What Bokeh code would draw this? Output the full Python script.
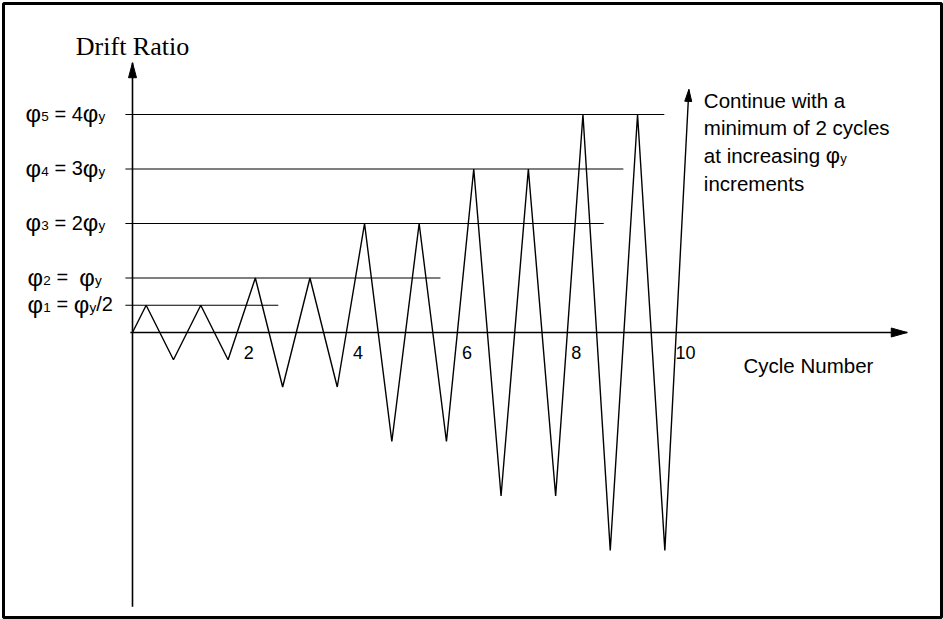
from bokeh.plotting import figure
from bokeh.models import Range1d
from bokeh.core.properties import value
from bokeh.embed import file_html
from bokeh.resources import INLINE

# ---------------- data ----------------
cycle_x = [0, 0.25, 0.75, 1.25, 1.75, 2.25, 2.75, 3.25, 3.75, 4.25, 4.75,
           5.25, 5.75, 6.25, 6.75, 7.25, 7.75, 8.25, 8.75, 9.25, 9.75]
drift_y = [0, 0.5, -0.5, 0.5, -0.5, 1, -1, 1, -1, 2, -2,
           2, -2, 3, -3, 3, -3, 4, -4, 4, -4]
continue_tip = [10.19, 4.46]

level_values = [4, 3, 2, 1, 0.5]
level_line_end = [9.74, 8.99, 8.63, 5.64, 2.67]
level_line_start = -0.13
# label segments: (text, kind)  kind: "m" main text, "s" subscript, "p" phi symbol
level_labels = [
    [("φ", "p"), ("5", "s"), (" = 4", "m"), ("φ", "p"), ("y", "s")],
    [("φ", "p"), ("4", "s"), (" = 3", "m"), ("φ", "p"), ("y", "s")],
    [("φ", "p"), ("3", "s"), (" = 2", "m"), ("φ", "p"), ("y", "s")],
    [("φ", "p"), ("2", "s"), (" =  ", "m"), ("φ", "p"), ("y", "s")],
    [("φ", "p"), ("1", "s"), (" = ", "m"), ("φ", "p"), ("y", "s"), ("/2", "m")],
]
cycle_ticks = [2, 4, 6, 8, 10]
cycle_tick_labels = ["2", "4", "6", "8", "10"]
y_axis_extent = [-5.03, 4.95]
x_axis_extent = [-0.04, 14.19]

note_lines = [
    [("Continue with a", "m")],
    [("minimum of 2 cycles", "m")],
    [("at increasing ", "m"), ("φ", "p"), ("y", "s")],
    [("increments", "m")],
]

# ---------------- layout helpers ----------------
W, H = 943, 619
OX, OY = 132.0, 332.0      # pixel position of origin
XS, YS = 54.6, 54.5        # pixels per cycle / per drift unit
BL, BT, BR, BB = 3, 3, 2, 2
TEXT_DY = -7               # baseline correction (px)
NBSP = "\u00a0"


def fx(px):
    return (px - OX) / XS


def fy(py):
    return (OY - py) / YS


def tx(x):
    return OX + XS * x


def ty(y):
    return OY - YS * y


CW = {'φ': 0.66, ' ': 0.278, '=': 0.584, '/': 0.278,
      'a': .556, 'b': .556, 'c': .5, 'd': .556, 'e': .556, 'f': .278, 'g': .556,
      'h': .556, 'i': .222, 'j': .222, 'k': .5, 'l': .222, 'm': .833, 'n': .556,
      'o': .556, 'p': .556, 'q': .556, 'r': .333, 's': .5, 't': .278, 'u': .556,
      'v': .5, 'w': .722, 'x': .5, 'y': .5, 'z': .5}
for d in "0123456789":
    CW[d] = 0.556


def seg_width(s, size):
    return sum(CW.get(c, 0.6) for c in s) * size


p = figure(width=W, height=H, output_backend="svg", toolbar_location=None,
           x_range=Range1d(fx(BL), fx(W - BR)), y_range=Range1d(fy(H - BB), fy(BT)),
           x_axis_type=None, y_axis_type=None,
           min_border_left=BL, min_border_right=BR, min_border_top=BT, min_border_bottom=BB)
p.grid.visible = False
p.outline_line_color = "black"
p.outline_line_width = 3
p.background_fill_color = "white"
p.border_fill_color = "white"

SANS = value("Liberation Sans")
SERIF = value("Liberation Serif")


def head(tip_x, tip_y, ux, uy, length, width):
    """triangle arrow head; (ux, uy) screen-space unit direction of arrow"""
    px, py = tx(tip_x), ty(tip_y)
    bx, by = px - ux * length, py - uy * length
    nx, ny = -uy, ux
    xs = [px, bx + nx * width / 2, bx - nx * width / 2]
    ys = [py, by + ny * width / 2, by - ny * width / 2]
    return [fx(v) for v in xs], [fy(v) for v in ys]


# horizontal reference levels
for lv, le in zip(level_values, level_line_end):
    p.line([level_line_start, le], [lv, lv], line_color="black", line_width=1.1)

# axes
p.line([0, 0], y_axis_extent, line_color="black", line_width=1.6)
p.line(x_axis_extent, [0, 0], line_color="black", line_width=1.6)
hx, hy = head(0, y_axis_extent[1], 0, -1, 15, 8)
p.patch(hx, hy, fill_color="black", line_color="black")
hx, hy = head(x_axis_extent[1], 0, 1, 0, 16, 9)
p.patch(hx, hy, fill_color="black", line_color="black")

# loading history
p.line(cycle_x + [continue_tip[0]], drift_y + [continue_tip[1]],
       line_color="black", line_width=1.4)
dx = tx(continue_tip[0]) - tx(cycle_x[-1])
dy = ty(continue_tip[1]) - ty(drift_y[-1])
n = (dx * dx + dy * dy) ** 0.5
hx, hy = head(continue_tip[0], continue_tip[1], dx / n, dy / n, 12, 7)
p.patch(hx, hy, fill_color="black", line_color="black")

# cycle tick labels
p.text(x=cycle_ticks, y=[0] * len(cycle_ticks), text=cycle_tick_labels,
       text_font=SANS, text_font_size="18px", text_align="center",
       text_baseline="alphabetic", x_offset=7, y_offset=27 + TEXT_DY, text_color="black")

# axis titles
p.text(x=[0], y=[fy(53 + TEXT_DY)], text=["Drift Ratio"], text_font=SERIF,
       text_font_size="26px", text_align="center", text_baseline="alphabetic",
       text_color="black")
p.text(x=[fx(743)], y=[fy(372 + TEXT_DY)], text=["Cycle Number"], text_font=SANS,
       text_font_size="20.5px", text_align="left", text_baseline="alphabetic",
       text_color="black")


def render(groups, size, sub_size, phi_size):
    cols = {"m": ([], [], []), "s": ([], [], []), "p": ([], [], [])}
    sizes = {"m": size, "s": sub_size, "p": phi_size}
    dys = {"m": 0, "s": 3, "p": 0}
    for segs, x0, base in groups:
        run = x0
        for s, kind in segs:
            xs, ys, ts = cols[kind]
            xs.append(fx(run))
            ys.append(fy(base + dys[kind] + TEXT_DY))
            ts.append(s.replace(" ", NBSP))
            run += seg_width(s, sizes[kind])
    for kind, (xs, ys, ts) in cols.items():
        if ts:
            p.text(x=xs, y=ys, text=ts, text_font=SANS,
                   text_font_size=f"{sizes[kind]}px", text_align="left",
                   text_baseline="alphabetic", text_color="black")


# level labels on the left
groups = []
for i, (lv, segs) in enumerate(zip(level_values, level_labels)):
    x0 = 25 if i < 3 else 27
    groups.append((segs, x0, ty(lv) + 6))
render(groups, 20, 13.5, 24)

# note at the right
tip_px, tip_py = tx(continue_tip[0]), ty(continue_tip[1])
note_base = [18, 45, 73, 101]
groups = [(segs, tip_px + 15, tip_py + b) for segs, b in zip(note_lines, note_base)]
render(groups, 20.5, 13, 22)

open("out.html", "w").write(file_html(p, INLINE))
